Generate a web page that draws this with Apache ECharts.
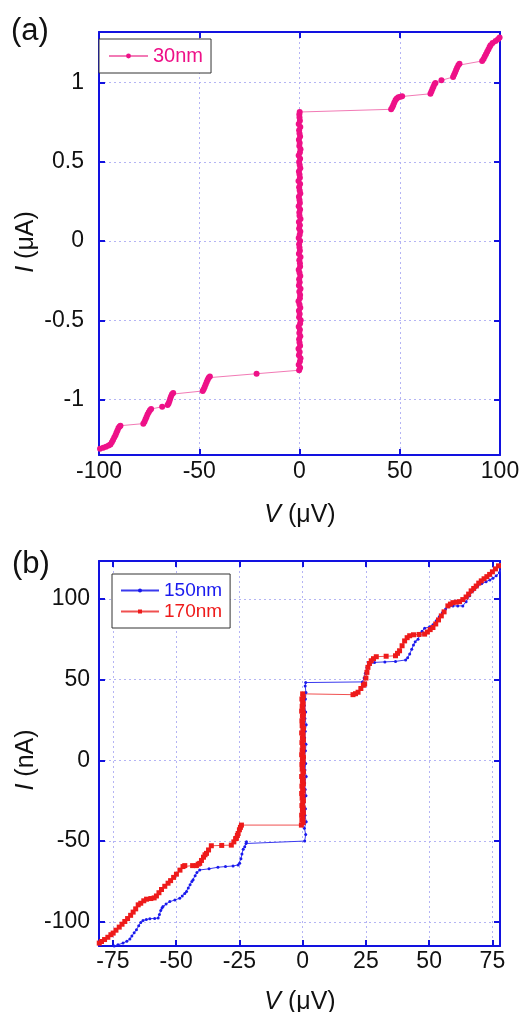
<!DOCTYPE html>
<html><head><meta charset="utf-8">
<script src="https://cdn.jsdelivr.net/npm/echarts@6/dist/echarts.min.js"></script>
<style>html,body{margin:0;padding:0;background:#fff}#c{width:526px;height:1012px}</style>
</head><body><div id="c"></div>
<script>
// Panel (a): 30nm  [V (µV), I (µA)]
const data30nm = [
[-99.5,-1.310],[-97.9,-1.305],[-96.5,-1.298],[-95.2,-1.290],[-94.3,-1.284],[-93.6,-1.270],[-93.0,-1.255],[-92.4,-1.240],[-91.8,-1.225],[-91.3,-1.210],[-90.8,-1.195],[-90.3,-1.180],[-89.7,-1.170],[-89.3,-1.165],
[-77.9,-1.152],[-77.3,-1.140],[-76.8,-1.125],[-76.3,-1.110],[-75.8,-1.095],[-75.2,-1.080],[-74.6,-1.068],[-74.0,-1.060],
[-68.5,-1.045],[-65.8,-1.035],[-65.3,-1.025],[-64.9,-1.010],[-64.5,-0.995],[-64.1,-0.980],[-63.6,-0.966],[-63.0,-0.958],
[-48.3,-0.946],[-47.8,-0.935],[-47.3,-0.920],[-46.8,-0.905],[-46.3,-0.890],[-45.8,-0.875],[-45.3,-0.862],[-44.7,-0.855],
[-21.4,-0.837],
[-0.2,-0.815],[0.3,-0.80],[-0.4,-0.78],[0.2,-0.76],[0.5,-0.74],[-0.3,-0.72],[0.1,-0.70],[-0.5,-0.68],[0.3,-0.66],[0.0,-0.64],[-0.2,-0.62],[0.4,-0.60],[-0.1,-0.58],[0.2,-0.56],[-0.4,-0.54],[0.3,-0.52],[0.6,-0.50],[-0.2,-0.48],[0.1,-0.46],[-0.3,-0.44],[0.4,-0.42],[0.0,-0.40],[-0.5,-0.38],[0.2,-0.36],[0.3,-0.34],[-0.1,-0.32],[0.5,-0.30],[-0.3,-0.28],[0.1,-0.26],[-0.2,-0.24],[0.4,-0.22],[0.0,-0.20],[-0.4,-0.18],[0.3,-0.16],[0.2,-0.14],[-0.1,-0.12],[0.5,-0.10],[-0.3,-0.08],[0.2,-0.06],[0.0,-0.04],[-0.2,-0.02],[0.3,0.00],[-0.4,0.02],[0.1,0.04],[0.4,0.06],[-0.2,0.08],[0.2,0.10],[-0.3,0.12],[0.5,0.14],[0.0,0.16],[-0.1,0.18],[0.3,0.20],[-0.4,0.22],[0.2,0.24],[0.0,0.26],[-0.3,0.28],[0.4,0.30],[0.1,0.32],[-0.2,0.34],[0.3,0.36],[-0.5,0.38],[0.2,0.40],[0.0,0.42],[-0.3,0.44],[0.4,0.46],[0.1,0.48],[-0.2,0.50],[0.3,0.52],[-0.4,0.54],[0.2,0.56],[0.5,0.58],[-0.1,0.60],[0.1,0.62],[-0.3,0.64],[0.3,0.66],[0.0,0.68],[-0.2,0.70],[0.4,0.72],[-0.4,0.74],[0.2,0.76],[0.0,0.78],[-0.1,0.80],[0.1,0.815],
[45.7,0.832],[46.3,0.845],[46.8,0.860],[47.3,0.875],[47.9,0.890],[48.5,0.900],[49.3,0.908],[50.3,0.912],[51.2,0.914],
[65.3,0.930],[65.8,0.945],[66.3,0.960],[66.8,0.975],[67.3,0.990],[67.8,0.998],[70.8,1.015],
[76.6,1.036],[77.1,1.050],[77.6,1.065],[78.1,1.080],[78.6,1.095],[79.2,1.110],[79.8,1.120],
[91.1,1.137],[91.8,1.150],[92.4,1.165],[93.0,1.180],[93.6,1.195],[94.2,1.210],[94.8,1.225],[95.3,1.236],[96.3,1.250],[97.8,1.263],[99.0,1.275],[99.8,1.285]
];
// Panel (b): 150nm  [V (µV), I (nA)]
const data150nm = [
[-74.5,-115],[-73.0,-114.2],[-71.0,-113.2],[-69.5,-112],[-68.3,-110.7],[-67.5,-108.8],[-66.6,-106.8],[-65.7,-104.9],[-64.8,-102.5],[-64.0,-100.5],[-63.1,-99.2],[-61.8,-98.6],[-60.4,-98.1],[-58.5,-97.9],[-57.1,-97.7],[-56.6,-95.5],[-56.1,-93],[-55.6,-91.5],[-55.2,-90.6],[-54.0,-89],[-52.5,-87.5],[-50.5,-86.5],[-48.6,-85.4],[-47.6,-84],[-46.6,-82.5],[-45.9,-81.3],[-45.2,-79],[-44.5,-77],[-43.8,-75],[-43.3,-74],[-42.5,-71.5],[-41.8,-69.5],[-40.7,-67.9],[-37.0,-67.2],[-33.5,-66.2],[-30.5,-65.8],[-27.5,-65.4],[-25.5,-64.8],[-24.9,-63.8],[-24.4,-61],[-24.0,-58],[-23.5,-55],[-22.9,-53.5],[-22.4,-51.5],[-22.2,-50.4],
[0.8,-50],[1.2,-46],[0.7,-42],[1.4,-38],[0.9,-34],[1.1,-30],[0.6,-26],[1.3,-22],[1.0,-18],[0.8,-14],[1.4,-10],[0.9,-6],[1.2,-2],[0.7,2],[1.1,6],[1.3,10],[0.8,14],[1.0,18],[1.4,22],[0.9,26],[1.2,30],[0.7,34],[1.1,38],[1.3,42],[1.0,46],[1.2,48.2],
[23.6,48.6],[24.3,51],[24.8,54],[25.4,57.6],[26.0,59.2],[26.5,60],[28.4,60.7],[32.5,61],[36.7,61.3],[40.7,62.2],[41.5,63.5],[42.3,65.9],[43.1,68.8],[43.8,71.5],[44.5,73.5],[45.6,75.1],[46.3,77.5],[47.2,80],[48.2,81.9],[50.2,82.7],[51.5,84],[52.8,86.5],[54.0,89],[55.2,91.5],[56.5,93.8],[57.8,95.2],[59.4,95.7],[61.3,95.7],[63.3,95.7],[64.6,98.3],[66.0,101.9],[67.3,105],[68.3,107],[69.2,108],[70.8,109.5],[72.5,110.7],[74.0,111.8],[75.2,112.8],[76.5,114.3],[77.8,116.3],[78.5,118]
];
// Panel (b): 170nm  [V (µV), I (nA)]
const data170nm = [
[-80.4,-113.2],[-79.5,-112.2],[-78.3,-111],[-77.0,-109.6],[-75.8,-108],[-74.9,-107],[-73.8,-105.2],[-72.5,-103.3],[-71.4,-101.5],[-70.3,-99.8],[-69.2,-98],[-68.0,-96],[-67.0,-94],[-66.0,-92],[-65.0,-89.5],[-64.0,-88.5],[-62.8,-87],[-61.7,-86],[-60.0,-85.6],[-58.7,-85.2],[-57.8,-84],[-56.8,-82],[-55.8,-80],[-54.5,-78],[-53.2,-76.1],[-52.2,-74.5],[-51.0,-72.5],[-49.9,-70.5],[-48.5,-68],[-47.3,-65.8],[-46.6,-65.2],[-43.5,-65.2],[-42.0,-65.2],[-41.3,-64.3],[-40.7,-63.8],[-40.0,-62],[-39.2,-60],[-38.6,-58.5],[-38.0,-57.6],[-37.2,-55.5],[-36.1,-52.9],[-32.0,-52.7],[-28.2,-52.5],[-27.2,-50.5],[-26.5,-48.5],[-26.2,-48.3],[-25.8,-46.5],[-25.5,-45.3],[-25.0,-43],[-24.6,-41.5],[-24.2,-40.1],
[-0.5,-40.1],[0.2,-38.5],[-0.3,-37],[0.1,-35.5],[-0.4,-34],[0.3,-32.5],[-0.1,-31],[0.2,-29.5],[-0.3,-28],[0.0,-26.5],[0.3,-25],[-0.2,-23.5],[0.1,-22],[-0.4,-20.5],[0.2,-19],[0.0,-17.5],[-0.3,-16],[0.3,-14.5],[-0.1,-13],[0.2,-11.5],[-0.4,-10],[0.1,-8.5],[0.3,-7],[-0.2,-5.5],[0.0,-4],[-0.3,-2.5],[0.2,-1],[-0.1,0.5],[0.3,2],[-0.4,3.5],[0.1,5],[-0.2,6.5],[0.2,8],[0.0,9.5],[-0.3,11],[0.3,12.5],[-0.1,14],[0.2,15.5],[-0.4,17],[0.1,18.5],[0.3,20],[-0.2,21.5],[0.0,23],[-0.3,24.5],[0.2,26],[-0.1,27.5],[0.3,29],[-0.4,30.5],[0.1,32],[-0.2,33.5],[0.2,35],[0.0,36.5],[-0.3,38],[0.2,39.5],[0.0,41.2],
[19.9,40.7],[20.9,41.3],[21.9,42.2],[23.0,44.5],[24.0,46.5],[24.5,47.3],[25.0,51],[25.4,54.5],[25.8,57.6],[26.4,60],[27.1,61.7],[28.0,63],[29.1,64.2],[33.0,64.5],[36.7,64.8],[37.5,66.3],[38.3,67.9],[39.3,71],[40.3,74],[41.3,76],[42.3,77.2],[43.8,77.8],[46.0,78],[48.2,78.2],[49.3,79.5],[50.4,81],[51.5,82.3],[52.6,84.5],[53.7,87],[54.8,89.5],[55.9,92],[57.4,95.7],[58.4,96.8],[59.4,97.7],[60.7,98],[62.0,98.3],[63.3,99.6],[64.6,101.2],[65.6,103],[66.6,105],[67.6,106.5],[68.6,108],[69.6,109.8],[70.6,111.2],[71.7,112.5],[72.8,113.8],[73.9,115.2],[75.0,116.8],[76.2,118.6],[77.4,120.5],[78.5,122.4]
];
const ticksAx = [-100, -50, 0, 50, 100];
const ticksAy = [-1, -0.5, 0, 0.5, 1];
const ticksBx = [-75, -50, -25, 0, 25, 50, 75];
const ticksBy = [-100, -50, 0, 50, 100];

const FONT = '"Liberation Sans", Arial, sans-serif';
const AXC = '#1212e0';
const GRIDC = '#b4b4f4';

function axis(kind, gi, min, max, ticks, pos, labels, margin) {
  return {
    type: 'value', gridIndex: gi, position: pos, min: min, max: max,
    axisLine: {show: true, onZero: false, lineStyle: {color: AXC, width: 2}},
    axisTick: {show: true, inside: true, length: 6, lineStyle: {color: AXC, width: 2}, customValues: ticks},
    axisLabel: {show: labels, customValues: ticks, margin: margin, color: '#111', fontFamily: FONT, fontSize: 23},
    splitLine: {show: labels, lineStyle: {color: GRIDC, type: [2, 3], width: 1}}
  };
}

const chart = echarts.init(document.getElementById('c'), null, {renderer: 'canvas'});
const titleStyle = (txt, size) => ({text: txt, font: size + 'px ' + FONT, fill: '#111', align: 'center', verticalAlign: 'middle', rich: {i: {fontStyle: 'italic', fontSize: size, fontFamily: FONT}}});
const option = {
  animation: false,
  backgroundColor: '#fff',
  grid: [
    {left: 99, top: 32, width: 401, height: 423},
    {left: 99, top: 561, width: 401, height: 385}
  ],
  xAxis: [
    axis('x', 0, -100, 100, ticksAx, 'bottom', true, 5),
    axis('x', 0, -100, 100, ticksAx, 'top', false, 5),
    axis('x', 1, -80.5, 78, ticksBx, 'bottom', true, 4),
    axis('x', 1, -80.5, 78, ticksBx, 'top', false, 4)
  ],
  yAxis: [
    axis('y', 0, -1.35, 1.32, ticksAy, 'left', true, 15),
    axis('y', 0, -1.35, 1.32, ticksAy, 'right', false, 15),
    axis('y', 1, -115, 123.5, ticksBy, 'left', true, 9),
    axis('y', 1, -115, 123.5, ticksBy, 'right', false, 9)
  ],
  legend: [
    {
      left: 99, top: 39, orient: 'vertical', padding: [7, 8, 7, 9],
      borderColor: '#333', borderWidth: 1, backgroundColor: '#fff',
      itemWidth: 39, itemHeight: 6, itemGap: 4,
      textStyle: {fontFamily: FONT, fontSize: 20},
      data: [{name: '30nm', textStyle: {color: '#ee1188'}}]
    },
    {
      left: 112, top: 574, orient: 'vertical', padding: [7, 8, 7, 8],
      borderColor: '#333', borderWidth: 1, backgroundColor: '#fff',
      itemWidth: 38, itemHeight: 5, itemGap: 2,
      textStyle: {fontFamily: FONT, fontSize: 19},
      data: [{name: '150nm', textStyle: {color: '#1a1aee'}}, {name: '170nm', textStyle: {color: '#ee1a1a'}}]
    }
  ],
  series: [
    {
      name: '30nm', type: 'line', xAxisIndex: 0, yAxisIndex: 0, data: data30nm,
      symbol: 'circle', symbolSize: 6, showSymbol: true,
      itemStyle: {color: '#ee1188'}, lineStyle: {color: '#f27ab5', width: 1}
    },
    {
      name: '150nm', type: 'line', xAxisIndex: 2, yAxisIndex: 2, data: data150nm,
      symbol: 'circle', symbolSize: 3, showSymbol: true,
      itemStyle: {color: '#1a1aee'}, lineStyle: {color: '#3a3aee', width: 1}
    },
    {
      name: '170nm', type: 'line', xAxisIndex: 2, yAxisIndex: 2, data: data170nm,
      symbol: 'rect', symbolSize: 5, showSymbol: true,
      itemStyle: {color: '#ee1a1a'}, lineStyle: {color: '#f05050', width: 1}
    }
  ],
  graphic: [
    {type: 'text', x: 11, y: 31, style: {text: '(a)', font: '31px ' + FONT, fill: '#111', verticalAlign: 'middle'}},
    {type: 'text', x: 12, y: 564, style: {text: '(b)', font: '31px ' + FONT, fill: '#111', verticalAlign: 'middle'}},
    {type: 'text', x: 300, y: 515, style: titleStyle('{i|V} (μV)', 25)},
    {type: 'text', x: 300, y: 1002, style: titleStyle('{i|V} (μV)', 25)},
    {type: 'text', x: 26, y: 242, rotation: Math.PI / 2, style: titleStyle('{i|I} (μA)', 25)},
    {type: 'text', x: 26, y: 760, rotation: Math.PI / 2, style: titleStyle('{i|I} (nA)', 25)}
  ]
};
chart.setOption(option);
</script>
</body></html>
